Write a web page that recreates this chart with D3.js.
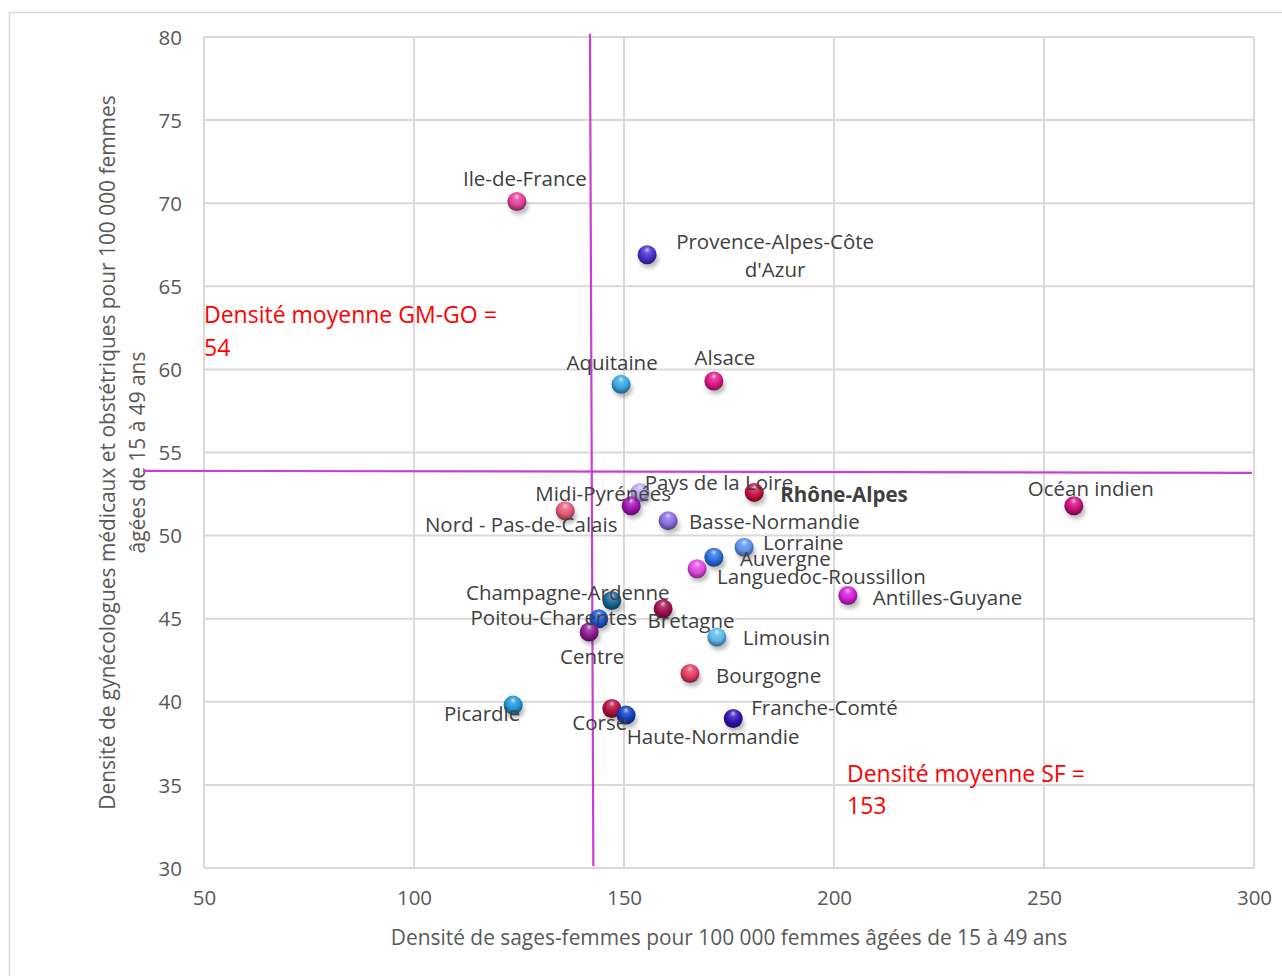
<!DOCTYPE html>
<html lang="fr">
<head>
<meta charset="utf-8">
<script src="https://cdn.jsdelivr.net/npm/d3@7/dist/d3.min.js"></script>
<style>
  html, body { margin: 0; padding: 0; background: #fff; }
  svg { display: block; font-family: "Open Sans", "Liberation Sans", sans-serif; }
</style>
</head>
<body>
<svg id="chart" width="1282" height="976"></svg>
<script>
// Régions françaises : densité de sages-femmes (x) et de gynécologues (y)
const regions = [
  "Ile-de-France", "Provence-Alpes-Côte d'Azur", "Aquitaine", "Alsace",
  "Pays de la Loire", "Rhône-Alpes", "Midi-Pyrénées", "Nord - Pas-de-Calais",
  "Basse-Normandie", "Lorraine", "Auvergne", "Languedoc-Roussillon",
  "Antilles-Guyane", "Océan indien", "Champagne-Ardenne", "Bretagne",
  "Poitou-Charentes", "Centre", "Limousin", "Bourgogne",
  "Picardie", "Corse", "Haute-Normandie", "Franche-Comté"
];
const sfDensity = [
  124.5, 155.5, 149.3, 171.4,
  153.8, 181.0, 151.7, 136.0,
  160.5, 178.6, 171.4, 167.4,
  203.3, 257.1, 147.1, 159.3,
  144.0, 141.7, 172.1, 165.7,
  123.6, 147.1, 150.5, 176.0
];
const gmgoDensity = [
  70.1, 66.9, 59.1, 59.3,
  52.6, 52.6, 51.8, 51.5,
  50.9, 49.3, 48.7, 48.0,
  46.4, 51.8, 46.1, 45.6,
  45.0, 44.2, 43.9, 41.7,
  39.8, 39.6, 39.2, 39.0
];
const pointColors = [
  "#e2419a", "#4a2fd2", "#39a6e2", "#e3158a",
  "#b9a6f2", "#cc0f40", "#a512b5", "#e45c7a",
  "#8b6ce2", "#5d93ea", "#2b6fe2", "#e246e4",
  "#d61fd9", "#cc0f7d", "#18699c", "#a3104e",
  "#1b58e0", "#8c1b95", "#5cbbea", "#e23b63",
  "#1f97d9", "#b2103f", "#1340c2", "#3212b3"
];

const xTicks = [50, 100, 150, 200, 250, 300];
const yTicks = [30, 35, 40, 45, 50, 55, 60, 65, 70, 75, 80];

// Lignes de moyenne tracées à la main (extrémités en unités de données)
const sfMeanLine = [[141.9, 80.2], [142.7, 30.1]];
const gmgoMeanLine = [[35.5, 53.9], [299.5, 53.78]];
const sfMeanText = ["Densité moyenne SF =", "153"];
const gmgoMeanText = ["Densité moyenne GM-GO =", "54"];

const xTitle = "Densité de sages-femmes pour 100 000 femmes âgées de 15 à 49 ans";
const yTitle = ["Densité de gynécologues médicaux et obstétriques pour 100 000 femmes", "âgées de 15 à 49 ans"];

// Placement des étiquettes autour de chaque point (pixels)
const labelPlacement = {
  "Ile-de-France": {a: "middle", dx: 8, dy: -24},
  "Provence-Alpes-Côte d'Azur": {a: "middle", dx: 128, dy: -14, lines: ["Provence-Alpes-Côte", "d'Azur"]},
  "Aquitaine": {a: "middle", dx: -9, dy: -22},
  "Alsace": {a: "middle", dx: 11, dy: -24},
  "Pays de la Loire": {a: "middle", dx: 79, dy: -10},
  "Rhône-Alpes": {a: "start", dx: 26, dy: 2, bold: true},
  "Midi-Pyrénées": {a: "middle", dx: -28, dy: -13},
  "Nord - Pas-de-Calais": {a: "middle", dx: -44, dy: 13},
  "Basse-Normandie": {a: "start", dx: 21, dy: 0},
  "Lorraine": {a: "start", dx: 19, dy: -5},
  "Auvergne": {a: "start", dx: 26, dy: 1},
  "Languedoc-Roussillon": {a: "start", dx: 20, dy: 7},
  "Antilles-Guyane": {a: "start", dx: 25, dy: 2},
  "Océan indien": {a: "middle", dx: 17, dy: -18},
  "Champagne-Ardenne": {a: "middle", dx: -44, dy: -8},
  "Bretagne": {a: "middle", dx: 28, dy: 11},
  "Poitou-Charentes": {a: "middle", dx: -45, dy: -2},
  "Centre": {a: "middle", dx: 3, dy: 24},
  "Limousin": {a: "start", dx: 26, dy: 0},
  "Bourgogne": {a: "start", dx: 26, dy: 1},
  "Picardie": {a: "middle", dx: -31, dy: 8},
  "Corse": {a: "middle", dx: -12, dy: 14},
  "Haute-Normandie": {a: "middle", dx: 87, dy: 21},
  "Franche-Comté": {a: "start", dx: 18, dy: -11}
};

const svg = d3.select("#chart");
const plot = {left: 204, right: 1254, top: 37, bottom: 868};
const textGray = "#595959";
const gridGray = "#d9d9d9";
const lineColor = "#c93fd6";
const fontSize = 20.5;
const titleSize = 20.9;
const annotSize = 23;

const x = d3.scaleLinear().domain([50, 300]).range([plot.left, plot.right]);
const y = d3.scaleLinear().domain([30, 80]).range([plot.bottom, plot.top]);

// Cadre du graphique
svg.append("rect")
  .attr("x", 9.5).attr("y", 12.5).attr("width", 1300).attr("height", 1000)
  .attr("fill", "#fff").attr("stroke", gridGray).attr("stroke-width", 1.5);

// Grille
const grid = svg.append("g");
grid.selectAll("line.v").data(xTicks).join("line")
  .attr("x1", d => x(d)).attr("x2", d => x(d))
  .attr("y1", plot.top).attr("y2", plot.bottom)
  .attr("stroke", gridGray).attr("stroke-width", 2);
grid.selectAll("line.h").data(yTicks).join("line")
  .attr("x1", plot.left).attr("x2", plot.right)
  .attr("y1", d => y(d)).attr("y2", d => y(d))
  .attr("stroke", gridGray).attr("stroke-width", 2);

// Axes
const xAxis = svg.append("g")
  .attr("transform", `translate(0,${plot.bottom + 22})`)
  .call(d3.axisBottom(x).tickValues(xTicks).tickSize(0).tickPadding(0));
const yAxis = svg.append("g")
  .attr("transform", `translate(${plot.left - 22},0)`)
  .call(d3.axisLeft(y).tickValues(yTicks).tickSize(0).tickPadding(0));
[xAxis, yAxis].forEach(g => {
  g.select(".domain").remove();
  g.selectAll("text")
    .attr("fill", textGray)
    .style("font-size", fontSize + "px")
    .style("font-family", "'Open Sans', sans-serif");
});
xAxis.selectAll("text").attr("dy", "0.75em");
yAxis.selectAll("text").attr("dy", "0.35em");

// Titres des axes
svg.append("text")
  .attr("x", (plot.left + plot.right) / 2).attr("y", 937)
  .attr("text-anchor", "middle").attr("dominant-baseline", "central")
  .attr("fill", textGray).style("font-size", titleSize + "px")
  .text(xTitle);
const yT = svg.append("text")
  .attr("transform", `translate(107,${(plot.top + plot.bottom) / 2}) rotate(-90)`)
  .attr("text-anchor", "middle").attr("fill", textGray)
  .style("font-size", titleSize + "px");
yTitle.forEach((t, i) => {
  yT.append("tspan").attr("x", 0).attr("y", i * 30)
    .attr("dominant-baseline", "central").text(t);
});

// Lignes de moyenne
const lineGen = d3.line().x(d => x(d[0])).y(d => y(d[1]));
svg.append("path").attr("d", lineGen(sfMeanLine))
  .attr("stroke", lineColor).attr("stroke-width", 2.2).attr("fill", "none");
svg.append("path").attr("d", lineGen(gmgoMeanLine))
  .attr("stroke", lineColor).attr("stroke-width", 2.2).attr("fill", "none");

// Sphères : dégradés radiaux et ombre portée
const defs = svg.append("defs");
const shadow = defs.append("filter").attr("id", "shadow")
  .attr("x", "-50%").attr("y", "-50%").attr("width", "200%").attr("height", "200%");
shadow.append("feGaussianBlur").attr("stdDeviation", 2.2);

pointColors.forEach((c, i) => {
  const g = defs.append("radialGradient").attr("id", "sphere" + i)
    .attr("cx", "50%").attr("cy", "40%").attr("r", "60%")
    .attr("fx", "50%").attr("fy", "22%");
  g.append("stop").attr("offset", "0%").attr("stop-color", d3.interpolateRgb(c, "#fff")(0.75));
  g.append("stop").attr("offset", "25%").attr("stop-color", d3.interpolateRgb(c, "#fff")(0.2));
  g.append("stop").attr("offset", "60%").attr("stop-color", c);
  g.append("stop").attr("offset", "100%").attr("stop-color", d3.interpolateRgb(c, "#000")(0.45));
});

const points = regions.map((name, i) => ({
  name, sf: sfDensity[i], gm: gmgoDensity[i], i
}));
const r = 9.5;

const marks = svg.append("g");
marks.selectAll("ellipse.shadow").data(points).join("ellipse")
  .attr("cx", d => x(d.sf) + 2).attr("cy", d => y(d.gm) + 5)
  .attr("rx", r).attr("ry", r * 0.85)
  .attr("fill", "#000").attr("opacity", 0.28)
  .attr("filter", "url(#shadow)");
marks.selectAll("circle.ball").data(points).join("circle")
  .attr("cx", d => x(d.sf)).attr("cy", d => y(d.gm)).attr("r", r)
  .attr("fill", d => `url(#sphere${d.i})`);

// Étiquettes des régions
const labels = svg.append("g")
  .style("font-size", fontSize + "px").attr("fill", "#404040");
points.forEach(d => {
  const p = labelPlacement[d.name];
  const t = labels.append("text")
    .attr("text-anchor", p.a)
    .style("font-weight", p.bold ? "bold" : "normal");
  const lines = p.lines || [d.name];
  lines.forEach((ln, k) => {
    t.append("tspan")
      .attr("x", x(d.sf) + p.dx)
      .attr("y", y(d.gm) + p.dy + k * 28)
      .attr("dominant-baseline", "central")
      .text(ln);
  });
});

// Annotations des moyennes
const annot = svg.append("g").attr("fill", "#ff0000").style("font-size", annotSize + "px");
gmgoMeanText.forEach((t, k) => {
  annot.append("text").attr("x", 204).attr("y", 314 + k * 33)
    .attr("dominant-baseline", "central").text(t);
});
sfMeanText.forEach((t, k) => {
  annot.append("text").attr("x", 847).attr("y", 773 + k * 32)
    .attr("dominant-baseline", "central").text(t);
});
</script>
</body>
</html>
